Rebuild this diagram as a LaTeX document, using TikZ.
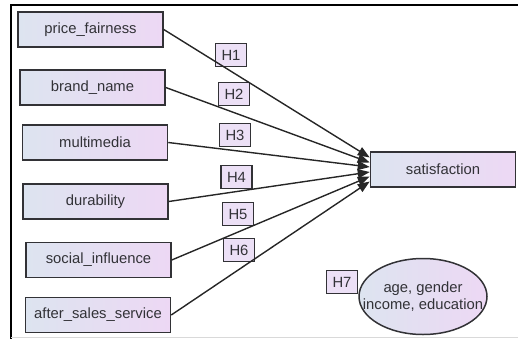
\documentclass[tikz,border=0pt]{standalone}
\usepackage{fontspec}
\setmainfont{Liberation Sans}
\definecolor{boxleft}{RGB}{221, 228, 240}
\definecolor{boxright}{RGB}{237, 216, 244}
\definecolor{boxedge}{RGB}{50, 50, 54}
\definecolor{labelfill}{RGB}{236, 224, 246}
\definecolor{labeltext}{RGB}{50, 50, 55}
\usetikzlibrary{shapes, arrows.meta, positioning, calc}

\begin{document}
\begin{tikzpicture}[x=1pt, y=-1pt,
        varbox/.style={draw=boxedge, line width=1.5pt, left color=boxleft, right color=boxright,
              minimum width=145pt, minimum height=35pt, inner sep=0pt,
              text=labeltext, font=\fontsize{14.8}{17}\selectfont},
        hypbox/.style={draw=boxedge, line width=1.5pt, fill=labelfill,
              minimum width=31pt, minimum height=23pt, inner sep=0pt,
              text=labeltext, font=\fontsize{14.8}{17}\selectfont},
        effect/.style={line width=1.4pt, black!85, -{Triangle[length=12pt, width=9pt]}}]
    \useasboundingbox (0,0) rectangle (518,339);
    % frame
    \draw[line width=2pt] (11,339) -- (11,5) -- (518,5);
    \draw[black!15, line width=1pt] (11,337) -- (518,337);

    % predictors
    \node[varbox] (price) at (90.5,29.5) {price\_fairness};
    \node[varbox] (brand) at (92.5,87.5) {brand\_name};
    \node[varbox] (media) at (95,142.5) {multimedia};
    \node[varbox] (durab) at (95.5,201.5) {durability};
    \node[varbox] (social) at (98.5,260) {social\_influence};
    \node[varbox] (after) at (98,315) {after\_sales\_service};

    % outcome
    \node[varbox] (satis) at (443,169.5) {satisfaction};

    % hypotheses
    \node[hypbox] (h1) at (231,55) {H1};
    \node[hypbox] (h2) at (234,94) {H2};
    \node[hypbox] (h3) at (235,135) {H3};
    \node[hypbox] (h4) at (236.5,177) {H4};
    \node[hypbox] (h5) at (238,214) {H5};
    \node[hypbox] (h6) at (239,250) {H6};

    \draw[effect] (price.east) -- ([yshift=12pt]satis.west);
    \draw[effect] (brand.east) -- ([yshift=7pt]satis.west);
    \draw[effect] (media.east) -- ([yshift=2.5pt]satis.west);
    \draw[effect] (durab.east) -- ([yshift=-2.5pt]satis.west);
    \draw[effect] (social.east) -- ([yshift=-7pt]satis.west);
    \draw[effect] (after.east) -- ([yshift=-12pt]satis.west);

    % moderators
    \node[hypbox] (h7) at (342,282) {H7};
    \node[draw=boxedge, line width=1.5pt, ellipse, left color=boxleft, right color=boxright,
          minimum width=128pt, minimum height=76pt, inner xsep=-16pt, inner ysep=0pt,
          align=center, text=labeltext, font=\fontsize{14.8}{17}\selectfont] (demo) at (423,296.5)
          {age, gender\\income, education};
\end{tikzpicture}
\end{document}
